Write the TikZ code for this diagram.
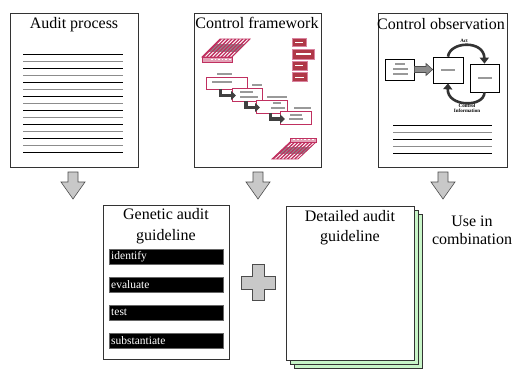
\documentclass[tikz,border=0pt]{standalone}
\usepackage{fontspec}
\setmainfont{Liberation Serif}
\usetikzlibrary{arrows.meta}
\definecolor{crim}{HTML}{C03060}
\definecolor{dred}{HTML}{B03848}
\definecolor{pgray}{HTML}{C8C8C8}
\definecolor{pgreen}{HTML}{C8F5C8}
\begin{document}
\begin{tikzpicture}[x=1pt,y=-1pt,
  page/.style={draw=black!80, fill=white, line width=0.8pt, inner sep=0pt},
  title/.style={font=\fontsize{16}{20}\selectfont, align=center, inner sep=0pt},
  blackbar/.style={fill=black, draw=black!60, line width=0.4pt, minimum width=114pt, minimum height=15pt, inner sep=0pt, anchor=north west},
  bartext/.style={text=white, font=\fontsize{11.5}{12}\selectfont, anchor=west, inner sep=0pt},
  downarrow/.style={fill=pgray, draw=black!70, line width=0.6pt},
  blk/.style={draw=black, line width=0.8pt},
  gry/.style={draw=black!45, line width=0.8pt},
  pinkbox/.style={draw=crim, fill=white, line width=0.8pt},
  gbar/.style={draw=black!40, line width=2pt},
  redbox/.style={fill=dred, draw=crim!60, line width=1pt},
  elbow/.style={draw=black!75, line width=3.2pt, -{Triangle[length=5pt,width=9pt]}},
  arc/.style={draw=black!80, line width=2.6pt, -{Triangle[length=6pt,width=9pt]}},
  tiny/.style={font=\fontsize{5}{5.5}\selectfont\bfseries, align=center, inner sep=0pt}]
\useasboundingbox (0,0) rectangle (512,369);
\fill[white] (0,0) rectangle (512,369);

% ---------- Audit process
\node[page, minimum width=128pt, minimum height=154pt] (ap) at (74,90) {};
\node[title] (apt) at (74,25) {Audit process};
\foreach \i in {0,...,14}{
  \pgfmathsetmacro{\yy}{54+7*\i}
  \ifodd\i \draw[gry] (23,\yy) -- (123,\yy); \else \draw[blk] (23,\yy) -- (123,\yy); \fi
}

% ---------- Control framework
\node[page, minimum width=127pt, minimum height=154pt] (cf) at (257.5,90) {};
\node[title] (cft) at (257,23) {Control framework};
% hatched parallelogram top-left
\begin{scope}
  \clip (202,57) -- (232,57) -- (250,39) -- (220,39) -- cycle;
  \fill[white] (200,37) rectangle (252,59);
  \fill[black!45] (200,44) rectangle (252,52);
  \foreach \i in {0,...,14} \draw[crim, line width=1.3pt] (196+3.6*\i,57) -- (214+3.6*\i,39);
\end{scope}
\draw[crim, line width=0.8pt] (202,57) -- (232,57) -- (250,39) -- (220,39) -- cycle;
\draw[crim, fill=crim!45, line width=0.6pt] (202,57) rectangle (232,62);
\foreach \i in {0,...,5} \fill[white] (211+3.6*\i,58.6) rectangle +(1.6,1.8);
% hatched parallelogram bottom-right
\begin{scope}
  \clip (272,159) -- (298,159) -- (316,142) -- (290,142) -- cycle;
  \fill[white] (270,140) rectangle (318,161);
  \fill[black!45] (270,147) rectangle (318,154);
  \foreach \i in {0,...,14} \draw[crim, line width=1.3pt] (266+3.6*\i,159) -- (284+3.6*\i,142);
\end{scope}
\draw[crim, line width=0.8pt] (272,159) -- (298,159) -- (316,142) -- (290,142) -- cycle;
\draw[crim, fill=crim!45, line width=0.6pt] (290,138) rectangle (316,142);
\foreach \i in {0,...,5} \fill[white] (293+3.8*\i,138.8) rectangle +(1.8,1.6);
% red stack
\draw[redbox] (292,39) rectangle (306,47);
\draw[white, line width=1.5pt] (295,42.5) -- (303,42.5);
\draw[redbox] (292,50) rectangle (314,60);
\draw[white, line width=1.5pt] (296,54) -- (311,54);
\draw[redbox] (292,62) rectangle (307,71);
\draw[white, line width=1.5pt] (295,65.5) -- (303,65.5);
\draw[redbox] (292,73) rectangle (307,82);
\draw[white, line width=1.5pt] (295,77.5) -- (304,77.5);
% cascade
\draw[gbar] (217,74) -- (232,74);
\draw[pinkbox] (206,77) rectangle (247,89);
\draw[gbar] (212,82.5) -- (232,82.5);
\draw[gbar] (252,85) -- (262,85);
\draw[pinkbox] (232,88) rectangle (262,101);
\draw[gbar] (240,92) -- (253,92);
\draw[gbar] (240,97) -- (258,97);
\draw[gbar] (267,97) -- (287,97);
\draw[pinkbox] (256,100) rectangle (287,113);
\draw[gbar] (273,103.5) -- (281,103.5);
\draw[gbar] (271,108) -- (285,108);
\draw[gbar] (294,108) -- (311,108);
\draw[pinkbox] (280,111) rectangle (311,124);
\draw[gbar] (290,115.5) -- (302,115.5);
\draw[gbar] (289,119.5) -- (303,119.5);
\draw[elbow] (220.5,89) -- (220.5,95.5) -- (236,95.5);
\draw[elbow] (246,101) -- (246,107.5) -- (260,107.5);
\draw[elbow] (270.5,113) -- (270.5,119) -- (285,119);

% ---------- Control observation
\node[page, minimum width=129pt, minimum height=154pt] (co) at (442.5,90) {};
\node[title] (cot) at (441,24) {Control observation};
\node[draw=black, fill=white, line width=0.7pt, minimum width=29pt, minimum height=21pt, inner sep=0pt] (inb) at (399.5,69.5) {};
\draw[gbar] (395,64.5) -- (405,64.5);
\draw[gbar] (393,69.5) -- (408,69.5);
\draw[gbar] (393,74.5) -- (408,74.5);
\node[draw=black, fill=white, line width=0.7pt, minimum width=30pt, minimum height=26pt, inner sep=0pt] (mb) at (448,70) {};
\draw[gbar] (441,70) -- (455,70);
\node[draw=black, fill=white, line width=0.7pt, minimum width=29pt, minimum height=28pt, inner sep=0pt] (rb) at (484.5,78) {};
\draw[gbar] (478,78) -- (492,78);
\draw[fill=black!45, draw=black!70, line width=0.6pt] (inb.east |- 0,66.5) -- (426,66.5) -- (426,63.5) -- (mb.west |- 0,69.5) -- (426,75.5) -- (426,72.5) -- (inb.east |- 0,72.5) -- cycle;
\draw[arc] (mb.north) .. controls (450,41) and (484,40) .. (rb.north);
\draw[arc] (rb.south) .. controls (484,108) and (447,107) .. (mb.south);
\node[tiny] (act) at (464,41) {Act};
\node[tiny] (ci) at (467,108.5) {Control\\Information};
\foreach \i in {0,...,4}{
  \pgfmathsetmacro{\yy}{125+7*\i}
  \ifodd\i \draw[gry] (393,\yy) -- (492,\yy); \else \draw[blk] (393,\yy) -- (492,\yy); \fi
}

% ---------- down arrows
\foreach \cx in {73,258,443}{
  \draw[downarrow] (\cx-5,172) -- (\cx+5,172) -- (\cx+5,182) -- (\cx+12,182) -- (\cx,199) -- (\cx-12,182) -- (\cx-5,182) -- cycle;
}

% ---------- Genetic audit guideline
\node[page, minimum width=126pt, minimum height=154pt] (ga) at (166,282) {};
\node[title, font=\fontsize{16}{21}\selectfont] (gat) at (166,226) {Genetic audit\\guideline};
\node[blackbar] (b1) at (109,249) {};
\node[bartext] at ([xshift=2pt]b1.west) {identify};
\node[blackbar] (b2) at (109,277) {};
\node[bartext] at ([xshift=2pt]b2.west) {evaluate};
\node[blackbar] (b3) at (109,305) {};
\node[bartext] at ([xshift=2pt]b3.west) {test};
\node[blackbar] (b4) at (109,333) {};
\node[bartext] at ([xshift=2pt]b4.west) {substantiate};

% ---------- plus
\draw[fill=pgray, draw=black!70, line width=0.7pt] (252,264) -- (264,264) -- (264,276) -- (275,276) -- (275,289) -- (264,289) -- (264,300) -- (252,300) -- (252,289) -- (241,289) -- (241,276) -- (252,276) -- cycle;

% ---------- Detailed audit guideline
\node[page, fill=pgreen, minimum width=128pt, minimum height=154pt] (dg3) at (358,291) {};
\node[page, fill=pgreen, minimum width=128pt, minimum height=154pt] (dg2) at (354,287) {};
\node[page, minimum width=128pt, minimum height=154pt] (dg) at (350,283) {};
\node[title, font=\fontsize{16}{20}\selectfont] (dgt) at (350,228) {Detailed audit\\guideline};

\node[title, font=\fontsize{16}{17.5}\selectfont] (use) at (472,230.5) {Use in\\combination};
\end{tikzpicture}
\end{document}
